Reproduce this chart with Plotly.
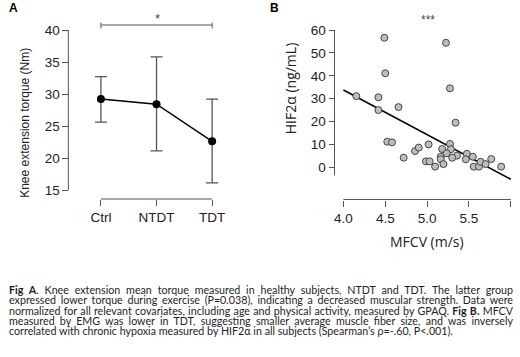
import plotly.graph_objects as go

W, H = 520, 357

# ---------------- data ----------------
groups = ["Ctrl", "NTDT", "TDT"]
torque_mean = [29.2, 28.4, 22.6]
torque_low = [25.6, 21.1, 16.1]
torque_high = [32.7, 35.8, 29.2]

mfcv = [4.154, 4.489, 4.50, 4.418, 4.418, 4.658, 4.524, 4.58, 4.72, 4.856, 4.90, 5.018,
        4.986, 5.03, 5.096, 5.18, 5.163, 5.163, 5.195, 5.226, 5.273, 5.273, 5.285, 5.234,
        5.34, 5.357, 5.30, 5.475, 5.463, 5.546, 5.557, 5.62, 5.64, 5.70, 5.767, 5.885]
hif2a = [31.1, 56.6, 41.1, 30.6, 25.0, 26.3, 11.2, 10.9, 4.2, 7.1, 8.6, 10.0,
         2.6, 2.6, 0.3, 8.0, 4.6, 3.5, 1.4, 54.4, 34.5, 10.2, 7.9, 6.1,
         19.5, 5.1, 4.2, 5.9, 3.5, 4.6, 0.3, 0.3, 2.4, 1.4, 3.6, 0.3]
fit_x = [4.0, 6.0]
fit_y = [33.8, -5.2]

ticks_a = [15, 20, 25, 30, 35, 40]
ticks_bx = [4.0, 4.5, 5.0, 5.5, 6.0]
ticks_by = [0, 10, 20, 30, 40, 50, 60]

caption_lines = [
    "<b>Fig A</b>. Knee extension mean torque measured in healthy subjects, NTDT and TDT. The latter group",
    "expressed lower torque during exercise (P=0.038), indicating a decreased muscular strength. Data were",
    "normalized for all relevant covariates, including age and physical activity, measured by GPAQ. <b>Fig B.</b> MFCV",
    "measured by EMG was lower in TDT, suggesting smaller average muscle fiber size, and was inversely",
    "correlated with chronic hypoxia measured by HIF2\u03b1 in all subjects (Spearman\u2019s \u03c1=-.60, P<.001).",
]

# ---------------- geometry helpers ----------------
def px(x):
    return x / W

def py(y):
    return 1 - y / H

AX = "#555555"
TXT = "#222222"
ARIAL = "Liberation Sans, Arial, sans-serif"
CAL = "Lato, Carlito, Calibri, sans-serif"
OPEN = "Open Sans, sans-serif"

fig = go.Figure()

# Panel A
fig.add_trace(go.Scatter(
    x=list(range(len(groups))), y=torque_mean, mode="lines+markers",
    line=dict(color="black", width=1.5),
    marker=dict(color="black", size=8),
    error_y=dict(type="data", symmetric=False,
                 array=[h - m for h, m in zip(torque_high, torque_mean)],
                 arrayminus=[m - l for m, l in zip(torque_mean, torque_low)],
                 color="#555555", thickness=1.3, width=6),
    xaxis="x", yaxis="y", showlegend=False))

# Panel B
fig.add_trace(go.Scatter(
    x=fit_x, y=fit_y, mode="lines", line=dict(color="black", width=1.6),
    xaxis="x2", yaxis="y2", showlegend=False))
fig.add_trace(go.Scatter(
    x=mfcv, y=hif2a, mode="markers",
    marker=dict(color="#bdbdbd", size=7, line=dict(color="#444444", width=1)),
    xaxis="x2", yaxis="y2", showlegend=False))

tickfont = dict(family=ARIAL, size=13.5, color=TXT)

# panel A: 40 -> 30px, 15 -> 190px; x axis line at 199px
a_bot, a_top = 199, 10
a_lo = 15 - (a_bot - 190) / 6.4
a_hi = 40 + (30 - a_top) / 6.4
# panel B: 60 -> 30px, 0 -> 167.3px; x axis line at 199.5px
b_bot, b_top = 199.5, 10
b_scale = (167.3 - 30) / 60
b_lo = -(b_bot - 167.3) / b_scale
b_hi = 60 + (30 - b_top) / b_scale

fig.update_layout(
    width=W, height=H, margin=dict(l=0, r=0, t=0, b=0),
    paper_bgcolor="white", plot_bgcolor="white",
    xaxis=dict(domain=[px(80), px(226)], range=[-0.3, 2.3], anchor="y",
               tickvals=list(range(len(groups))), ticktext=groups,
               showline=False, showgrid=False, zeroline=False,
               ticks="outside", ticklen=6, tickcolor=AX, tickwidth=1,
               tickfont=tickfont),
    yaxis=dict(domain=[py(a_bot), py(a_top)], range=[a_lo, a_hi], anchor="free",
               position=px(64), tickvals=ticks_a,
               showline=False, showgrid=False, zeroline=False,
               ticks="outside", ticklen=6, tickcolor=AX, tickwidth=1,
               tickfont=tickfont),
    xaxis2=dict(domain=[px(337), px(516)], range=[3.944, 6.063], anchor="y2",
                tickvals=ticks_bx, tickformat=".1f",
                showline=False, showgrid=False, zeroline=False,
                ticks="outside", ticklen=6, tickcolor=AX, tickwidth=1,
                tickfont=tickfont),
    yaxis2=dict(domain=[py(b_bot), py(b_top)], range=[b_lo, b_hi], anchor="free",
                position=px(332.7), tickvals=ticks_by,
                showline=False, showgrid=False, zeroline=False,
                ticks="outside", ticklen=6, tickcolor=AX, tickwidth=1,
                tickfont=tickfont),
)

shapes = [
    # panel A axis lines
    dict(type="line", xref="paper", yref="y", x0=px(64), x1=px(64), y0=15, y1=40,
         line=dict(color=AX, width=1)),
    dict(type="line", xref="x", yref="paper", x0=0, x1=2, y0=py(a_bot), y1=py(a_bot),
         line=dict(color=AX, width=1)),
    # significance bracket
    dict(type="line", xref="x", yref="paper", x0=0, x1=2, y0=py(25), y1=py(25),
         line=dict(color=AX, width=1)),
    dict(type="line", xref="x", yref="paper", x0=0, x1=0, y0=py(22.5), y1=py(28.5),
         line=dict(color=AX, width=1)),
    dict(type="line", xref="x", yref="paper", x0=2, x1=2, y0=py(22.5), y1=py(28.5),
         line=dict(color=AX, width=1)),
    # panel B axis lines
    dict(type="line", xref="paper", yref="y2", x0=px(332.7), x1=px(332.7), y0=-3.5, y1=60,
         line=dict(color=AX, width=1)),
    dict(type="line", xref="x2", yref="paper", x0=4, x1=6, y0=py(b_bot), y1=py(b_bot),
         line=dict(color=AX, width=1)),
]
fig.update_layout(shapes=shapes)

ann = [
    dict(text="<b>A</b>", x=px(2), y=py(8), xanchor="left", yanchor="middle",
         font=dict(family=ARIAL, size=12, color="black")),
    dict(text="<b>B</b>", x=px(266), y=py(8), xanchor="left", yanchor="middle",
         font=dict(family=ARIAL, size=12, color="black")),
    dict(text="*", x=px(154), y=py(18), xanchor="center", yanchor="middle",
         font=dict(family=ARIAL, size=13, color="#444444")),
    dict(text="***", x=px(427), y=py(20), xanchor="center", yanchor="middle",
         font=dict(family=ARIAL, size=12, color="#444444")),
    dict(text="Knee extension torque (Nm)", x=px(20), y=py(123), textangle=-90,
         xanchor="center", yanchor="middle",
         font=dict(family=ARIAL, size=12, color=TXT)),
    dict(text="HIF2\u03b1 (ng/mL)", x=px(288), y=py(88), textangle=-90,
         xanchor="center", yanchor="middle",
         font=dict(family=OPEN, size=14, color=TXT)),
    dict(text="MFCV (m/s)", x=px(426), y=py(241), xanchor="center", yanchor="middle",
         font=dict(family=OPEN, size=14, color=TXT)),
]
for i, line in enumerate(caption_lines):
    ann.append(dict(text=line, x=px(2), y=py(289.7 + 10.15 * i), xanchor="left",
                    yanchor="middle", align="left",
                    font=dict(family=CAL, size=10.7, color="#1e1e1e")))
for a in ann:
    a.update(xref="paper", yref="paper", showarrow=False)
fig.update_layout(annotations=ann)

# remove page margin and justify the caption lines (all but the last)
post = """
document.body.style.margin = '0';
document.body.style.padding = '0';
var gd = document.getElementById('{plot_id}');
var target = 504;
gd.querySelectorAll('text.annotation-text').forEach(function (t) {
  var s = t.textContent;
  if (s.length > 80 && s.indexOf('Spearman') < 0) {
    var n = (s.match(/ /g) || []).length;
    var len = t.getComputedTextLength();
    if (n > 0 && len < target) {
      t.setAttribute('text-anchor', 'start');
      t.style.wordSpacing = ((target - len) / n) + 'px';
    }
  }
});
"""

fig.write_html("out.html", post_script=post, config={"displayModeBar": False})
